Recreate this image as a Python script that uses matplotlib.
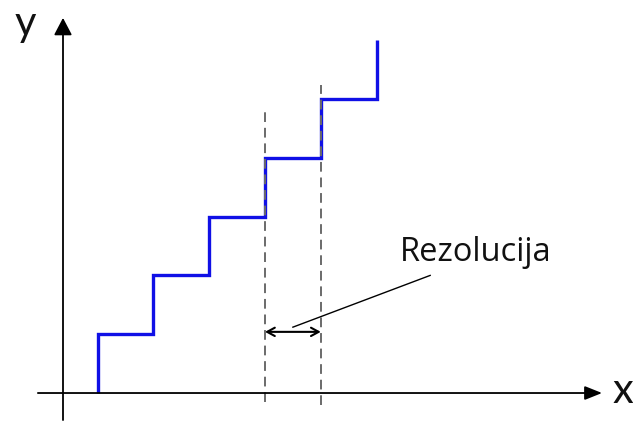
import numpy as np
import matplotlib
matplotlib.use("Agg")
import matplotlib.pyplot as plt

# staircase (quantisation) data: riser positions and code levels
x_steps = [0.62, 1.62, 2.62, 3.62, 4.62, 5.62]
levels = [0, 1, 2, 3, 4, 5, 6]
# the two dashed guides mark one step width
res_lines = [3.62, 4.62]
res_label = "Rezolucija"

fig = plt.figure(figsize=(6.33, 4.23), dpi=100)
ax = fig.add_axes([0, 0, 1, 1])
ax.set_xlim(-1.129, 10.215)
ax.set_ylim(-0.510, 6.684)
ax.axis('off')

# axes with arrow heads
ax.annotate('', xy=(9.66, 0), xytext=(-0.45, 0),
            arrowprops=dict(arrowstyle='-|>,head_length=1.05,head_width=0.42',
                            mutation_scale=10, lw=1.3, color='black',
                            shrinkA=0, shrinkB=0))
ax.annotate('', xy=(0, 6.38), xytext=(0, -0.46),
            arrowprops=dict(arrowstyle='-|>,head_length=1.05,head_width=0.55',
                            mutation_scale=10, lw=1.3, color='black',
                            shrinkA=0, shrinkB=0))
ax.text(-0.86, 6.07, 'y', fontsize=30, color='#111111', va='baseline', ha='left',
        family=['Lato', 'DejaVu Sans'])
ax.text(9.85, -0.17, 'x', fontsize=30, color='#111111', va='baseline', ha='left',
        family=['Lato', 'DejaVu Sans'])

# staircase
xs = np.repeat(x_steps, 2)
ys = np.repeat(levels, 2)[1:-1]
ax.plot(xs, ys, color='#1010e6', lw=2.4, solid_joinstyle='miter', solid_capstyle='butt')

# dashed guides
ax.plot([res_lines[0]] * 2, [-0.15, 4.78], color='#6a6a6a', lw=1.4, ls=(0, (5, 3)))
ax.plot([res_lines[1]] * 2, [-0.20, 5.24], color='#6a6a6a', lw=1.4, ls=(0, (5, 3)))

# resolution arrow and label
ax.annotate('', xy=(res_lines[1], 1.04), xytext=(res_lines[0], 1.04),
            arrowprops=dict(arrowstyle='<->,head_length=0.55,head_width=0.3',
                            mutation_scale=10, lw=1.5, color='black',
                            shrinkA=0, shrinkB=0))
ax.plot([4.12, 6.58], [1.12, 2.0], color='black', lw=1.0)
ax.text(6.04, 2.24, res_label, fontsize=23.5, color='#111111', va='baseline', ha='left',
        family=['Open Sans', 'DejaVu Sans'])

fig.savefig('out.png', dpi=100)
